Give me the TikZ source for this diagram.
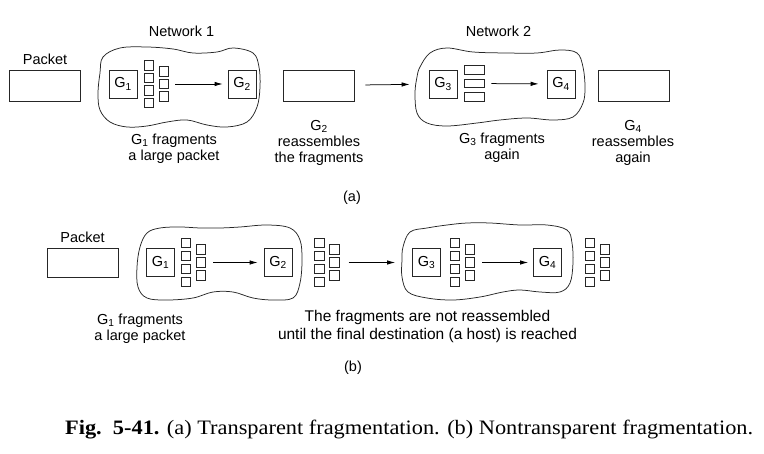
\documentclass[tikz,border=0pt]{standalone}
\usepackage{fontspec}
\setmainfont{Liberation Sans}
\newfontfamily\capfont[FakeStretch=1.09]{Liberation Serif}
\usetikzlibrary{arrows.meta,positioning}
\tikzset{
    block/.style={
        draw=black!85,
        line width=0.75pt,
        rectangle,
        minimum width=71pt,
        minimum height=31pt,
        inner sep=0pt
    },
    gate/.style={
        draw=black!85,
        line width=0.75pt,
        rectangle,
        minimum size=28pt,
        inner sep=0pt,
        font=\fontsize{14.5}{16}\selectfont
    },
    frag/.style={
        draw=black!85,
        line width=0.75pt,
        rectangle,
        minimum size=9.5pt,
        inner sep=0pt
    },
    wfrag/.style={
        draw=black!85,
        line width=0.75pt,
        rectangle,
        minimum width=20pt,
        minimum height=8.5pt,
        inner sep=0pt
    },
    net/.style={
        draw=black!85,
        line width=0.75pt
    },
    lbl/.style={
        inner sep=0pt,
        align=center,
        font=\fontsize{14.5}{16}\selectfont
    },
    flow/.style={
        ->,
        >={Latex[length=8pt,width=4.5pt]},
        line width=0.75pt
    },
}

\begin{document}
\begin{tikzpicture}[x=1pt, y=-1pt]
    \useasboundingbox (0,0) rectangle (764,454);

    % clouds
    \draw[net] plot[smooth cycle, tension=0.6] coordinates {(103,57) (120,48) (147,47) (173,49) (193,53) (217,52) (233,48) (253,53) (259,67) (260,87) (257,107) (247,122) (227,127) (207,125) (187,120) (167,122) (147,126) (127,127) (110,122) (100,110) (98,93) (100,73)};
    \draw[net] plot[smooth cycle, tension=0.6] coordinates {(420,67) (430,53) (447,48) (473,52) (507,53) (537,53) (560,50) (577,53) (583,67) (585,87) (583,103) (573,117) (553,120) (527,118) (500,120) (477,123) (447,126) (427,123) (417,113) (415,93) (417,77)};
    \draw[net] plot[smooth cycle, tension=0.6] coordinates {(140,247) (147,233) (160,228) (180,227) (200,228) (220,228) (240,227) (267,225) (290,228) (300,240) (302,260) (300,283) (293,298) (273,300) (253,298) (233,292) (213,292) (193,298) (167,300) (147,298) (138,287) (137,267)};
    \draw[net] plot[smooth cycle, tension=0.6] coordinates {(403,247) (410,232) (427,228) (447,225) (467,223) (490,223) (520,225) (547,225) (567,230) (572,243) (573,263) (570,283) (560,292) (540,292) (520,290) (503,292) (480,297) (453,300) (427,298) (408,292) (402,277) (402,260)};

    % blocks (a)
    \node[block] (pktA) at (45,85.5) {};
    \node[lbl, above=5pt of pktA] (pktAlbl) {Packet};
    \node[gate] (G1a) at (123,84) {G\textsubscript{1}};
    \node[gate] (G2a) at (242,84) {G\textsubscript{2}};
    \node[block] (midA) at (318.5,85.5) {};
    \node[gate] (G3a) at (443,84) {G\textsubscript{3}};
    \node[gate] (G4a) at (561,84) {G\textsubscript{4}};
    \node[block] (finA) at (633.5,85.5) {};

    \foreach \k in {1,...,4} \node[frag] (fa\k) at (149,52.75+12.5*\k) {};
    \foreach \k in {1,...,3} \node[frag] (fb\k) at (164,59+12.5*\k) {};
    \foreach \k in {1,...,3} \node[wfrag] (wa\k) at (474,56.5+13.5*\k) {};

    % blocks (b)
    \node[block, minimum height=29pt] (pktB) at (82.5,262.5) {};
    \node[lbl, above=5pt of pktB] (pktBlbl) {Packet};
    \node[gate] (G1b) at (160.5,262.5) {G\textsubscript{1}};
    \node[gate] (G2b) at (278,262.5) {G\textsubscript{2}};
    \node[gate] (G3b) at (426.5,262.5) {G\textsubscript{3}};
    \node[gate] (G4b) at (547.5,262.5) {G\textsubscript{4}};

    \foreach \k in {1,...,4} {
        \node[frag] (fc\k) at (186,230+13*\k) {};
        \node[frag] (fe\k) at (319.5,230+13*\k) {};
        \node[frag] (fg\k) at (455,230+13*\k) {};
        \node[frag] (fi\k) at (590,230+13*\k) {};
    }
    \foreach \k in {1,...,3} {
        \node[frag] (fd\k) at (201,236.5+13*\k) {};
        \node[frag] (ff\k) at (334.5,236.5+13*\k) {};
        \node[frag] (fh\k) at (470,236.5+13*\k) {};
        \node[frag] (fj\k) at (605,236.5+13*\k) {};
    }

    % labels
    \node[lbl, anchor=base] (net1) at (181.5,37) {Network 1};
    \node[lbl, anchor=base] (net2) at (498.5,37) {Network 2};
    \node[lbl, anchor=north] (txtG1a) at (174,134) {G\textsubscript{1} fragments\\a large packet};
    \node[lbl, anchor=north] (txtG2a) at (319,120) {G\textsubscript{2}\\reassembles\\the fragments};
    \node[lbl, anchor=north] (txtG3a) at (502,133) {G\textsubscript{3} fragments\\again};
    \node[lbl, anchor=north] (txtG4a) at (633,120) {G\textsubscript{4}\\reassembles\\again};
    \node[lbl] (capA) at (352,198) {(a)};
    \node[lbl, anchor=north] (txtG1b) at (140,314) {G\textsubscript{1} fragments\\a large packet};
    \node[lbl, anchor=north, font=\fontsize{15.5}{17}\selectfont] (txtB) at (427.5,310) {The fragments are not reassembled\\[1pt]until the final destination (a host) is reached};
    \node[lbl] (capB) at (353,368) {(b)};
    \node[inner sep=0pt, anchor=base west, font=\capfont\fontsize{20.5}{23}\selectfont] (fig) at (65,435)
        {\textbf{Fig.\ \ 5-41.} (a) Transparent fragmentation. (b) Nontransparent fragmentation.};

    % lines
    \draw[flow, shorten <=6pt, shorten >=5pt] (fb2) -- (fb2 -| G2a.west);
    \draw[flow, shorten <=11pt, shorten >=19pt] (midA) -- (G3a);
    \draw[flow, shorten <=7pt, shorten >=8pt] (wa2) -- (G4a);
    \draw[flow, shorten <=7pt, shorten >=6pt] (fd2) -- (G2b);
    \draw[flow, shorten <=9pt, shorten >=17pt] (ff2) -- (G3b);
    \draw[flow, shorten <=7pt, shorten >=5pt] (fh2) -- (G4b);

\end{tikzpicture}
\end{document}
